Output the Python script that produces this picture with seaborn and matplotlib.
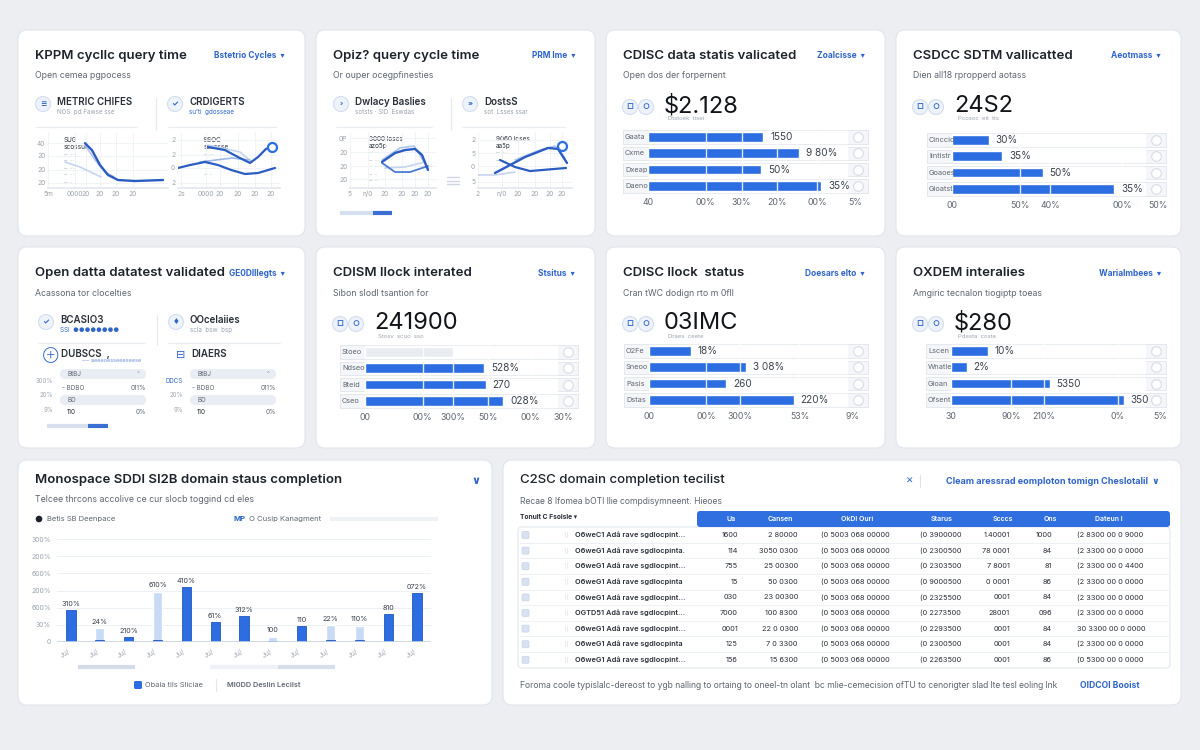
import matplotlib
matplotlib.use("Agg")
import matplotlib.pyplot as plt
from matplotlib.patches import FancyBboxPatch, Circle, Rectangle
import numpy as np
import seaborn as sns

# === Palette / canvas ===
W, H = 1200, 750
BG = "#eceef1"
EDGE = "#e1e5eb"
INK = "#1d222b"
GREY = "#5f6671"
PALE = "#9ba3ae"
BLUE = "#2c6ee2"
DARK = "#2a5cc2"
LINK = "#2f64c8"
LIGHT = "#c8daf5"

# === Data: line panels (x in chart steps, y in chart units) ===
KPPM_A_X = [3.7, 4.4, 5.2, 6.0, 7.0, 8.7, 11.5]
KPPM_A_Y = [32, 27, 16.4, 9.3, 5.7, 5.0, 5.7]
KPPM_A2_X = [3.7, 4.7, 5.7, 6.6]
KPPM_A2_Y = [30.7, 20, 11.4, 8]
KPPM_A3_X = [1.7, 3.2, 5.3]
KPPM_A3_Y = [18.6, 15, 7.9]
KPPM_B1_X = [0, 1.2, 2.7, 4.0, 5.3, 6.7, 8.0, 9.7]
KPPM_B1_Y = [14.3, 16.4, 18.6, 16.4, 12.9, 10, 10.7, 14.3]
KPPM_B2_X = [3.0, 4.7, 6.0, 7.2, 8.0, 8.8, 9.5]
KPPM_B2_Y = [29.3, 27.1, 22.1, 17.9, 22.1, 27.9, 30]
KPPM_B3_X = [2.2, 5.4, 7.2]
KPPM_B3_Y = [18.6, 21.4, 20]
KPPM_B4_X = [3.0, 6.2, 7.4]
KPPM_B4_Y = [30.7, 25.7, 18.6]

OPIZ_A1_X = [3.2, 4.5, 5.5, 6.5, 7.2, 7.8]
OPIZ_A1_Y = [18.6, 25, 27.1, 27.9, 23.6, 12.9]
OPIZ_A2_X = [3.2, 5.0, 6.4, 7.8]
OPIZ_A2_Y = [20, 28.6, 30, 14.3]
OPIZ_A3_X = [3.2, 4.5, 6.0, 7.8]
OPIZ_A3_Y = [17.9, 11.4, 11.4, 15.7]
OPIZ_A4_X = [3.5, 5.5, 7.5]
OPIZ_A4_Y = [14.3, 15, 18.6]
OPIZ_B1_X = [1.7, 3.2, 4.7, 7.0, 8.0, 8.9]
OPIZ_B1_Y = [10.7, 16.4, 22.1, 28.6, 27.9, 17.9]
OPIZ_B2_X = [2.2, 3.7, 5.2, 8.8]
OPIZ_B2_Y = [20, 15, 12.1, 14.3]
OPIZ_B3_X = [3.7, 6.2, 7.7, 8.7]
OPIZ_B3_Y = [20, 27.1, 30, 21.4]
OPIZ_B4_X = [0, 1.7, 3.7]
OPIZ_B4_Y = [9.3, 9.3, 11.4]

# === Data: KPI bar cards ===
C3_ROWS = ["Gaata", "Cxme", "Dxeap", "Daeno"]
C3_VALS = [0.58, 0.76, 0.57, 0.87]
C3_LABELS = ["1550", "9 80%", "50%", "35%"]
C3_TICKS = [0, 0.29, 0.47, 0.65, 0.85, 1.04]
C3_TICKLABELS = ["40", "00%", "30%", "20%", "00%", "5%"]

C4_ROWS = ["Cinccio", "Iintistr", "Goaoes", "Gioatst"]
C4_VALS = [0.19, 0.26, 0.47, 0.84]
C4_LABELS = ["30%", "35%", "50%", "35%"]
C4_TICKS = [0, 0.35, 0.51, 0.88, 1.07]
C4_TICKLABELS = ["00", "50%", "40%", "00%", "50%"]

C6_ROWS = ["Stoeo", "Ndseo", "Bteid", "Cseo"]
C6_VALS = [0.46, 0.62, 0.63, 0.72]
C6_LABELS = ["", "528%", "270", "028%"]
C6_TICKS = [0, 0.30, 0.46, 0.64, 0.86, 1.03]
C6_TICKLABELS = ["00", "00%", "300%", "50%", "00%", "30%"]

C7_ROWS = ["O2Fe", "Sneoo", "Pasis", "Dstas"]
C7_VALS = [0.21, 0.49, 0.39, 0.73]
C7_LABELS = ["18%", "3 08%", "260", "220%"]
C7_TICKS = [0, 0.29, 0.46, 0.76, 1.03]
C7_TICKLABELS = ["00", "00%", "300%", "53%", "9%"]

C8_ROWS = ["Lscen", "Wnatle", "Gioan", "Ofsent"]
C8_VALS = [0.19, 0.08, 0.51, 0.89]
C8_LABELS = ["10%", "2%", "5350", "350"]
C8_TICKS = [0, 0.31, 0.48, 0.86, 1.08]
C8_TICKLABELS = ["30", "90%", "210%", "0%", "5%"]

# === Data: domain completion bars ===
MONTHS = ["Ju/"] * 13
DARK_VALS = [94, 7, 14, 7, 159, 57, 76, 2, 47, 6, 6, 81, 142]
LIGHT_VALS = [0, 41, 0, 147, 0, 0, 0, 16, 0, 50, 48, 0, 0]
BAR_TOPLABELS = ["310%", "24%", "210%", "610%", "410%", "61%", "312%", "100",
                 "110", "22%", "110%", "810", "072%"]
BAR_YTICKS = [0, 50, 100, 150, 200, 250, 300]
BAR_YTICKLABELS = ["0", "30%", "600%", "200%", "600%", "200%", "300%"]

# === Data: checklist table ===
TABLE_HEADERS = ["Ua", "Cansen", "OkDI Ouri", "Starus", "Scccs", "Ons", "Dateun I"]
TABLE_NAMES = ["O6weC1 Adâ rave sgdlocpint...", "O6weG1 Adâ rave sgdlocpinta.",
               "O6weG1 Adâ rave sgdlocpint...", "O6weG1 Adâ rave sgdlocpinta",
               "O6weG1 Adâ rave sgdlocpint...", "OGTD51 Adâ rave sgdlocpint...",
               "O6weG1 Adâ rave sgdlocpint...", "O6weG1 Adâ rave sgdlocpinta",
               "O6weG1 Adâ rave sgdlocpint..."]
TABLE_UA = ["1600", "114", "755", "15", "030", "7000", "0001", "125", "156"]
TABLE_CANSEN = ["2 80000", "3050 0300", "25 00300", "50 0300", "23 00300",
                "100 8300", "22 0 0300", "7 0 3300", "15 6300"]
TABLE_OKDI = ["(0 5003 068 00000"] * 9
TABLE_STATUS = ["(0 3900000", "(0 2300500", "(0 2303500", "(0 9000500", "(0 2325500",
                "(0 2273500", "(0 2293500", "(0 2300500", "(0 2263500"]
TABLE_SCCS = ["1.40001", "78 0001", "7 8001", "0 0001", "0001", "28001", "0001", "0001", "0001"]
TABLE_ONS = ["1000", "84", "81", "86", "84", "096", "84", "84", "86"]
TABLE_DATASET = ["(2 8300 00 0 9000", "(2 3300 00 0 0000", "(2 3300 00 0 4400",
                 "(2 3300 00 0 0000", "(2 3300 00 0 0000", "(2 3300 00 0 0000",
                 "30 3300 00 0 0000", "(2 3300 00 0 0000", "(0 5300 00 0 0000"]


# ===========================
# Helpers
# ===========================
def px_axes(fig, x0, y0, x1, y1):
    ax = fig.add_axes([x0 / W, 1 - y1 / H, (x1 - x0) / W, (y1 - y0) / H])
    ax.set_facecolor("none")
    return ax


def card(bg, x0, y0, x1, y1):
    bg.add_patch(FancyBboxPatch((x0, y0), x1 - x0, y1 - y0,
                                boxstyle="round,pad=0,rounding_size=9",
                                fc="white", ec=EDGE, lw=0.8, zorder=1))


def txt(bg, x, y, s, size=6.5, color=INK, weight="normal", ha="left", va="center", **kw):
    bg.text(x, y, s, fontsize=size, color=color, fontweight=weight, ha=ha, va=va, zorder=5, **kw)


def icon(bg, x, y, glyph="", r=7.5):
    bg.add_patch(Circle((x, y), r, fc="#edf2fb", ec="#d3deef", lw=0.8, zorder=3))
    if glyph:
        txt(bg, x, y, glyph, size=5.5, color=LINK, ha="center", weight="bold")


def card_head(bg, x0, y0, x1, title, link, sub):
    txt(bg, x0 + 17, y0 + 26, title, size=9.5, weight="semibold")
    txt(bg, x1 - 20, y0 + 26, link + "  \u25be", size=6, color=LINK, weight="bold", ha="right")
    txt(bg, x0 + 17, y0 + 46, sub, size=6.3, color=GREY)


def line_panel(fig, x0, x1, series, yt, ytl, xt, xtl, marker=None):
    ax = px_axes(fig, x0, 132, x1, 188)
    for xs, ys, col, lw in series:
        sns.lineplot(x=xs, y=ys, color=col, lw=lw, ax=ax)
    if marker is not None:
        ax.scatter([marker[0]], [marker[1]], s=42, fc="white", ec=BLUE, lw=1.6, zorder=6)
    ax.set_xlim(0, (x1 - x0) / 10)
    ax.set_ylim(0, 40)
    ax.set_yticks(yt)
    ax.set_yticklabels(ytl)
    ax.set_xticks(xt)
    ax.set_xticklabels(xtl)
    ax.tick_params(length=0, labelsize=4.8, labelcolor=PALE, pad=2)
    ax.grid(True, color="#eef1f6", lw=0.6)
    for s in ax.spines.values():
        s.set_visible(False)
    ax.spines["bottom"].set_visible(True)
    ax.spines["bottom"].set_color("#e4e8ee")
    ax.set_xlabel("")
    ax.set_ylabel("")
    return ax


def kpi_bars(fig, tx0, tx1, ry0, rows, vals, labels, ticks, ticklabels, colors):
    dy = 16.3
    left, right = tx0 - 26, tx1 + 22
    ax = px_axes(fig, left, ry0 - dy / 2, right, ry0 + dy * 3.5)
    span = tx1 - tx0
    lo, hi = (left - tx0) / span, (right - tx0) / span
    sns.barplot(x=vals, y=rows, hue=rows, palette=colors, legend=False, orient="h",
                width=0.6, saturation=1, ax=ax, zorder=3)
    for i, (row, v, lab) in enumerate(zip(rows, vals, labels)):
        ax.barh(i, hi - lo - 0.01, left=lo + 0.005, height=0.82, color="#f5f6f9",
                edgecolor=EDGE, lw=0.6, zorder=1)
        ax.barh(i, 1.0, left=0, height=0.74, color="white", zorder=2)
        ax.text(lo + 3 / span, i, row, fontsize=5.3, color=GREY, va="center", ha="left", zorder=5)
        ax.text(v + 0.035, i, lab, fontsize=7.2, color="#3a414c", va="center", ha="left", zorder=5)
        ax.scatter([hi - 11 / span], [i], s=48, fc="white", ec="#d7dce4", lw=0.8, zorder=5)
    for t in ticks:
        if 0 < t < 1:
            ax.axvline(t, color="white", lw=1.0, alpha=0.85, zorder=4)
    ax.set_xlim(lo, hi)
    ax.set_ylim(len(rows) - 0.5, -0.5)
    ax.set_xticks(ticks)
    ax.set_xticklabels(ticklabels)
    ax.set_yticks([])
    ax.tick_params(axis="x", length=0, labelsize=6.3, labelcolor=GREY, pad=3)
    for s in ax.spines.values():
        s.set_visible(False)
    ax.set_xlabel("")
    ax.set_ylabel("")
    return ax


def kpi_card(fig, bg, box, title, link, sub, big, caption, track, ry0, rows, vals, labels,
             ticks, ticklabels, colors, glyphs=("\u25a1", "\u25cb")):
    x0, y0, x1, y1 = box
    card(bg, *box)
    card_head(bg, x0, y0, x1, title, link, sub)
    icon(bg, x0 + 24, y0 + 77, glyphs[0])
    icon(bg, x0 + 40, y0 + 77, glyphs[1])
    txt(bg, x0 + 58, y0 + 76, big, size=17, color="#111418")
    txt(bg, x0 + 62, y0 + 89, caption, size=4.3, color=PALE)
    kpi_bars(fig, track[0], track[1], ry0, rows, vals, labels, ticks, ticklabels, colors)


def sub_head(bg, x, y, glyph, label, caption, cap_color=PALE):
    icon(bg, x, y + 2, glyph)
    txt(bg, x + 14, y, label, size=7, color="#2a2f38", weight="semibold")
    txt(bg, x + 14, y + 10, caption, size=4.5, color=cap_color)


# ===========================
# Main
# ===========================
def main():
    sns.set_theme(style="white")
    plt.rcParams["font.family"] = ["Inter", "DejaVu Sans"]

    fig = plt.figure(figsize=(12, 7.5), dpi=100, facecolor=BG)
    bg = fig.add_axes([0, 0, 1, 1])
    bg.set_xlim(0, W)
    bg.set_ylim(H, 0)
    bg.axis("off")

    # --- Card 1: KPPM cycle query time ---
    card(bg, 18, 30, 305, 236)
    card_head(bg, 18, 30, 305, "KPPM cycllc query time", "Bstetrio Cycles", "Open cemea pgpocess")
    sub_head(bg, 43, 102, "\u2261", "METRIC CHIFES", "NOS  pd Fawse sse")
    sub_head(bg, 175, 102, "\u2713", "CRDIGERTS", "su'ti  gdosseae", cap_color=LINK)
    bg.plot([156, 156], [98, 130], color="#e6e9ee", lw=0.8, zorder=3)
    bg.plot([36, 137], [127, 127], color="#e8ebf0", lw=0.8, zorder=3)
    bg.plot([168, 276], [127, 127], color="#e8ebf0", lw=0.8, zorder=3)
    for k, s in enumerate(["SUG", "scossue", "\u2012 \u00b7\u00b7\u00b7\u00b7", "\u2012 \u00b7\u00b7\u00b7",
                           "\u2012 \u00b7\u00b7\u00b7\u00b7", "\u2012 \u00b7\u00b7\u00b7", "\u2012 \u00b7\u00b7"]):
        txt(bg, 64, 140 + k * 7, s, size=4.6 if k < 2 else 4, color="#2a2f38" if k < 2 else PALE)
    for k, s in enumerate(["BSOC", "sssosse", "\u2012 \u00b7\u00b7\u00b7", "\u2012 \u00b7\u00b7\u00b7\u00b7",
                           "\u2012 \u00b7\u00b7\u00b7", "\u2012 \u00b7\u00b7"]):
        txt(bg, 204, 140 + k * 7, s, size=4.6 if k < 2 else 4, color="#2a2f38" if k < 2 else PALE)
    line_panel(fig, 48, 168,
               [(KPPM_A3_X, KPPM_A3_Y, "#c5d5ef", 1.2), (KPPM_A2_X, KPPM_A2_Y, "#b5c8ea", 1.2),
                (KPPM_A_X, KPPM_A_Y, DARK, 1.7)],
               [32, 22.9, 12.9, 3.6], ["40", "20", "20", "20"],
               [0, 2.7, 3.8, 5.2, 6.8, 8.5], ["5m", "0000", "20", "20", "20", "20"])
    line_panel(fig, 178, 280,
               [(KPPM_B4_X, KPPM_B4_Y, "#c5d5ef", 1.2), (KPPM_B3_X, KPPM_B3_Y, "#9db8e6", 1.2),
                (KPPM_B1_X, KPPM_B1_Y, DARK, 1.6), (KPPM_B2_X, KPPM_B2_Y, DARK, 1.6)],
               [34.3, 23.6, 14.3, 3.6], ["2", "2", "0", "2"],
               [0.3, 2.8, 4.2, 6.0, 7.7, 9.3], ["2s", "0000", "20", "20", "20", "20"],
               marker=(9.4, 29.3))

    # --- Card 2: Opiz query cycle time ---
    card(bg, 316, 30, 595, 236)
    card_head(bg, 316, 30, 595, "Opiz? query cycle time", "PRM lme", "Or ouper ocegpfinesties")
    sub_head(bg, 341, 102, "\u203a", "Dwlacy Baslies", "sotsts \u00b7 SID  Eswdas")
    sub_head(bg, 470, 102, "\u00bb", "DostsS", "sot  Lsses ssar")
    bg.plot([451, 451], [98, 130], color="#e6e9ee", lw=0.8, zorder=3)
    bg.plot([336, 432], [127, 127], color="#e8ebf0", lw=0.8, zorder=3)
    bg.plot([462, 565], [127, 127], color="#e8ebf0", lw=0.8, zorder=3)
    for k, s in enumerate(["3000 loses", "azo5p", "\u2012 \u00b7\u00b7\u00b7", "\u2012 \u00b7\u00b7\u00b7\u00b7",
                           "\u2012 \u00b7\u00b7\u00b7", "\u2012 \u00b7\u00b7", "\u2012 \u00b7\u00b7\u00b7"]):
        txt(bg, 369, 139 + k * 7, s, size=4.6 if k < 2 else 4, color="#2a2f38" if k < 2 else PALE)
    for k, s in enumerate(["9060 loses", "aa5p", "\u2012 \u00b7\u00b7\u00b7", "\u2012 \u00b7\u00b7\u00b7\u00b7",
                           "\u2012 \u00b7\u00b7\u00b7", "\u2012 \u00b7\u00b7"]):
        txt(bg, 496, 139 + k * 7, s, size=4.6 if k < 2 else 4, color="#2a2f38" if k < 2 else PALE)
    for k in range(3):
        bg.plot([447, 459], [177 + k * 3.5, 177 + k * 3.5], color="#cfd6e2", lw=1.0, zorder=3)
    line_panel(fig, 350, 436,
               [(OPIZ_A4_X, OPIZ_A4_Y, "#c5d5ef", 1.2), (OPIZ_A2_X, OPIZ_A2_Y, "#aec4ea", 1.2),
                (OPIZ_A3_X, OPIZ_A3_Y, "#4a7bd6", 1.3), (OPIZ_A1_X, OPIZ_A1_Y, DARK, 1.7)],
               [35.7, 25.7, 15.7, 6.4], ["0P", "20", "20", "20"],
               [0, 1.8, 3.5, 5.2, 6.5, 7.8], ["5", "n/0", "20", "20", "20", "20"])
    line_panel(fig, 478, 572,
               [(OPIZ_B4_X, OPIZ_B4_Y, "#c5d5ef", 1.2), (OPIZ_B3_X, OPIZ_B3_Y, "#aec4ea", 1.2),
                (OPIZ_B2_X, OPIZ_B2_Y, DARK, 1.6), (OPIZ_B1_X, OPIZ_B1_Y, DARK, 1.7)],
               [34.3, 25, 15.7, 4.3], ["2", "5", "0", "5"],
               [0, 2.4, 4.0, 5.7, 7.2, 8.4], ["2", "n/0", "20", "20", "20", "20"],
               marker=(8.4, 30))
    bg.plot([340, 373], [213, 213], color="#d4dff0", lw=3, solid_capstyle="butt", zorder=3)
    bg.plot([373, 392], [213, 213], color="#3b6fd1", lw=3, solid_capstyle="butt", zorder=3)

    # --- KPI bar cards ---
    blue4 = [BLUE] * 4
    kpi_card(fig, bg, (606, 30, 885, 236), "CDISC data statis valicated", "Zoalcisse",
             "Open dos der forpernent", "$2.128", "Dtstoek  tisei", (648, 847), 137,
             C3_ROWS, C3_VALS, C3_LABELS, C3_TICKS, C3_TICKLABELS, blue4)
    kpi_card(fig, bg, (896, 30, 1181, 236), "CSDCC SDTM vallicatted", "Aeotmass",
             "Dien all18 rpropperd aotass", "24S2", "Pcosoc  eit  tts", (952, 1145), 140,
             C4_ROWS, C4_VALS, C4_LABELS, C4_TICKS, C4_TICKLABELS, blue4)
    kpi_card(fig, bg, (316, 247, 595, 448), "CDISM llock interated", "Stsitus",
             "Sibon slodl tsantion for", "241900", "Stosv  scuo  sso", (365, 557), 352,
             C6_ROWS, C6_VALS, C6_LABELS, C6_TICKS, C6_TICKLABELS, ["#e9ecf1"] + [BLUE] * 3)
    kpi_card(fig, bg, (606, 247, 885, 448), "CDISC llock  status", "Doesars elto",
             "Cran tWC dodign rto m 0fll", "03IMC", "Draes  ceete", (649, 847), 351,
             C7_ROWS, C7_VALS, C7_LABELS, C7_TICKS, C7_TICKLABELS, blue4)
    kpi_card(fig, bg, (896, 247, 1181, 448), "OXDEM interalies", "Warialmbees",
             "Amgiric tecnalon tiogiptp toeas", "$280", "Pdesta  coste", (951, 1145), 351,
             C8_ROWS, C8_VALS, C8_LABELS, C8_TICKS, C8_TICKLABELS, blue4)

    # --- Card 5: Open data dataset validated ---
    card(bg, 18, 247, 305, 448)
    card_head(bg, 18, 247, 305, "Open datta datatest validated", "GE0DIIlegts", "Acassona tor clocelties")
    sub_head(bg, 46, 320, "\u2713", "BCASIO3", "SSI  \u25cf\u25cf\u25cf\u25cf\u25cf\u25cf\u25cf\u25cf", cap_color=LINK)
    sub_head(bg, 176, 320, "\u2666", "OOcelaiies", "scla  bsw  bsp")
    bg.plot([157, 157], [315, 345], color="#e6e9ee", lw=0.8, zorder=3)
    bg.plot([38, 145], [343, 343], color="#e8ebf0", lw=0.8, zorder=3)
    bg.plot([168, 280], [343, 343], color="#e8ebf0", lw=0.8, zorder=3)
    for ox, head, glyph, side in [(0, "DUBSCS  ,", "\u2295", "300%"), (130, "DIAERS", "\u229f", "DDCS")]:
        txt(bg, 51 + ox, 355, glyph, size=8, color=LINK, ha="center")
        txt(bg, 61 + ox, 354, head, size=7, color="#2a2f38", weight="semibold")
        if ox == 0:
            txt(bg, 82, 361, "\u2012\u2012 aeeeoesseeeseese", size=4, color="#6f93d6")
        for ry in (374, 400):
            bg.add_patch(FancyBboxPatch((60 + ox, ry - 5), 86, 10, boxstyle="round,pad=0,rounding_size=5",
                                        fc="#e9edf4", ec="none", zorder=3))
        txt(bg, 68 + ox, 374, "BtBJ", size=4.6, color=GREY)
        txt(bg, 140 + ox, 374, "^", size=4.6, color=PALE, ha="right")
        txt(bg, 62 + ox, 388, "- BDBO", size=4.6, color=GREY)
        txt(bg, 146 + ox, 388, "011%", size=4.6, color=GREY, ha="right")
        txt(bg, 68 + ox, 400, "BD", size=4.6, color=GREY)
        txt(bg, 67 + ox, 412, "110", size=4.6, color="#2a2f38")
        txt(bg, 146 + ox, 412, "0%", size=4.6, color=GREY, ha="right")
        txt(bg, 53 + ox, 381, side, size=4.4, color=PALE if ox == 0 else LINK, ha="right")
        txt(bg, 53 + ox, 395, "20%", size=4.4, color=PALE, ha="right")
        txt(bg, 53 + ox, 410, "9%", size=4.4, color=PALE, ha="right")
    bg.plot([47, 88], [426, 426], color="#d6e0ef", lw=3, solid_capstyle="butt", zorder=3)
    bg.plot([88, 108], [426, 426], color="#3b6fd1", lw=3, solid_capstyle="butt", zorder=3)

    # --- Card 9: domain status completion bars ---
    card(bg, 18, 460, 492, 705)
    txt(bg, 35, 480, "Monospace SDDI SI2B domain staus completion", size=9.5, weight="semibold")
    txt(bg, 476, 481, "\u2228", size=8, color=LINK, ha="center", weight="bold")
    txt(bg, 35, 500, "Telcee thrcons accolive ce cur slocb toggind cd eles", size=6.3, color=GREY)
    bg.add_patch(Circle((39, 519), 3.3, fc="#1d222b", ec="none", zorder=4))
    txt(bg, 47, 519, "Betis SB Deenpace", size=5.5, color=GREY)
    txt(bg, 234, 519, "MP", size=5.5, color=LINK, weight="bold")
    txt(bg, 249, 519, "O Cusip Kanagment", size=5.5, color=GREY)
    bg.add_patch(Rectangle((330, 517), 108, 4, fc="#eef1f5", ec="none", zorder=3))

    ax = px_axes(fig, 56.6, 536, 431.4, 642)
    idx = np.arange(len(MONTHS))
    sns.barplot(x=idx, y=LIGHT_VALS, color=LIGHT, width=0.32, saturation=1, ax=ax, zorder=2)
    sns.barplot(x=idx, y=DARK_VALS, color=BLUE, width=0.32, saturation=1, ax=ax, zorder=3,
                edgecolor="#2157c0", linewidth=0.6)
    for i, lab in enumerate(BAR_TOPLABELS):
        top = max(DARK_VALS[i], LIGHT_VALS[i])
        ax.text(i, top + 9, lab, fontsize=5.2, color="#3a414c", ha="center", va="bottom")
    ax.set_ylim(0, 309)
    ax.set_xlim(-0.5, 12.5)
    ax.set_yticks(BAR_YTICKS)
    ax.set_yticklabels(BAR_YTICKLABELS)
    ax.set_xticks(idx)
    ax.set_xticklabels(MONTHS, rotation=35, ha="right")
    ax.tick_params(length=0, labelsize=5, labelcolor=PALE, pad=4)
    ax.yaxis.grid(True, color="#eceff4", lw=0.7)
    ax.set_axisbelow(True)
    for s in ax.spines.values():
        s.set_visible(False)
    ax.axhline(0, color="#c9d3e2", lw=1.2, zorder=4)
    ax.set_xlabel("")
    ax.set_ylabel("")
    bg.plot([78, 135], [667, 667], color="#d4dcea", lw=3, solid_capstyle="butt", zorder=3)
    bg.plot([210, 278], [667, 667], color="#eef1f6", lw=3, solid_capstyle="butt", zorder=3)
    bg.plot([278, 335], [667, 667], color="#d6deeb", lw=3, solid_capstyle="butt", zorder=3)
    bg.add_patch(FancyBboxPatch((134, 681), 8, 8, boxstyle="round,pad=0,rounding_size=1.5",
                                fc=BLUE, ec="none", zorder=4))
    txt(bg, 145, 685, "Obala tils Sliciae", size=5.3, color=GREY)
    bg.plot([216, 216], [679, 691], color="#e3e7ec", lw=0.8, zorder=3)
    txt(bg, 227, 685, "MI0DD Deslin Lecilst", size=5.3, color=GREY, weight="semibold")

    # --- Card 10: checklist table ---
    card(bg, 503, 460, 1181, 705)
    txt(bg, 520, 480, "C2SC domain completion tecilist", size=9.5, weight="medium")
    txt(bg, 910, 481, "\u2715", size=6.5, color=LINK, ha="center")
    bg.plot([920, 920], [475, 487], color="#dfe3e9", lw=0.8, zorder=3)
    txt(bg, 1160, 481, "Cleam aressrad eomploton tomign Cheslotalil  \u2228", size=6.5, color=LINK,
        weight="bold", ha="right")
    txt(bg, 520, 502, "Recae 8 Ifomea bOTI llie compdisymneent. Hieoes", size=6.2, color=GREY)
    txt(bg, 520, 517, "Tonult C Fsolsle \u25be", size=4.8, color="#2a2f38", weight="bold")
    bg.add_patch(FancyBboxPatch((697, 511), 473, 16, boxstyle="round,pad=0,rounding_size=3",
                                fc="#2f6fe0", ec="none", zorder=3))
    col_x = [731, 780, 857, 942, 1003, 1050, 1109]
    for cx, head in zip(col_x, TABLE_HEADERS):
        txt(bg, cx, 519, head, size=5, color="white", ha="center", weight="semibold")
    bg.add_patch(FancyBboxPatch((518, 527), 652, 141, boxstyle="round,pad=0,rounding_size=4",
                                fc="white", ec="#e4e8ee", lw=0.8, zorder=2))
    for r, name in enumerate(TABLE_NAMES):
        y = 535 + r * 15.6
        if r > 0:
            bg.plot([520, 1168], [y - 7.8, y - 7.8], color="#edf0f4", lw=0.7, zorder=3)
        bg.add_patch(FancyBboxPatch((522, y - 3.5), 7, 7, boxstyle="round,pad=0,rounding_size=1.2",
                                    fc="#d9e2f1", ec="#c8d3e6", lw=0.5, zorder=4))
        txt(bg, 567, y, "\u2502\u2502", size=3.5, color="#c7cedb", ha="center")
        txt(bg, 575, y, name, size=5.3, color="#2a2f38", weight="semibold")
        txt(bg, 738, y, TABLE_UA[r], size=5.3, color="#2a2f38", ha="right")
        txt(bg, 798, y, TABLE_CANSEN[r], size=5.3, color="#2a2f38", ha="right")
        txt(bg, 821, y, TABLE_OKDI[r], size=5.3, color="#2a2f38")
        txt(bg, 920, y, TABLE_STATUS[r], size=5.3, color="#2a2f38")
        txt(bg, 1010, y, TABLE_SCCS[r], size=5.3, color="#2a2f38", ha="right")
        txt(bg, 1052, y, TABLE_ONS[r], size=5.3, color="#2a2f38", ha="right")
        txt(bg, 1077, y, TABLE_DATASET[r], size=5.3, color="#2a2f38")
    txt(bg, 520, 686, "Foroma coole typislalc-dereost to ygb nalling to ortaing to oneel-tn olant  bc "
        "mlie-cemecision ofTU to cenorigter slad lte tesl eoling lnk", size=6.2, color=GREY)
    txt(bg, 1140, 686, "OIDCOI Booist", size=6.2, color=LINK, weight="bold", ha="right")

    fig.savefig("out.png", dpi=100, facecolor=BG)


if __name__ == "__main__":
    main()
